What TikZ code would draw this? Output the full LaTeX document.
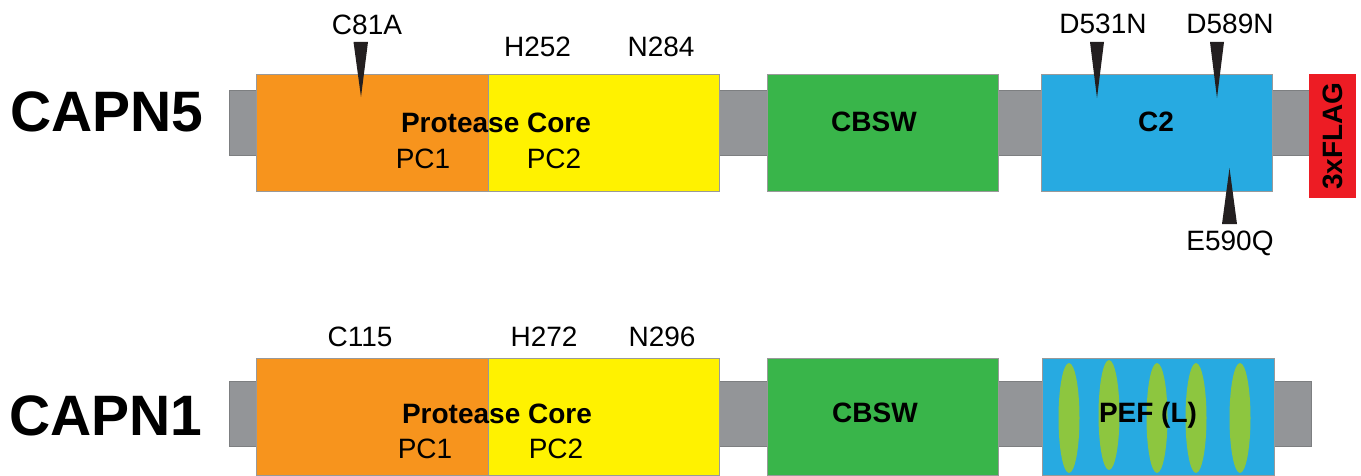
\documentclass[tikz,border=0pt]{standalone}
\usepackage{fontspec}
\setmainfont{Liberation Sans}
\definecolor{cgray}{HTML}{939598}
\definecolor{corange}{HTML}{F7941D}
\definecolor{cyellow}{HTML}{FFF200}
\definecolor{cgreen}{HTML}{39B54A}
\definecolor{cblue}{HTML}{27AAE1}
\definecolor{cred}{HTML}{ED1C24}
\definecolor{clime}{HTML}{8DC63F}
\definecolor{cblack}{HTML}{231F20}
\begin{document}
\begin{tikzpicture}[x=1pt,y=-1pt,
  dom/.style={draw=black!40, line width=0.6pt, anchor=north west, inner sep=0pt, outer sep=0pt, minimum height=117pt},
  linker/.style={fill=cgray, draw=cgray!85!black, line width=0.5pt, anchor=north west, inner sep=0pt, outer sep=0pt, minimum height=65pt},
  lab/.style={font=\fontsize{28}{34}\selectfont, anchor=base, inner sep=0pt, text=black},
  blab/.style={font=\fontsize{28}{34}\selectfont\bfseries, anchor=base, inner sep=0pt, text=black},
  big/.style={font=\fontsize{57}{68}\selectfont\bfseries, anchor=base, inner sep=0pt, text=black},
  tri/.style={fill=cblack},
  pef/.style={fill=clime}]
\useasboundingbox (0,0) rectangle (1361,476);

% ---------- CAPN5 ----------
\node[linker, minimum width=1081pt] (l5) at (229,90.5) {};
\node[dom, fill=corange, minimum width=232pt] (pc1a) at (256,74) {};
\node[dom, fill=cyellow, minimum width=231pt] (pc2a) at (488,74) {};
\node[dom, fill=cgreen, minimum width=231pt] (cbswa) at (767,74) {};
\node[dom, fill=cblue, minimum width=231pt] (c2a) at (1041,74) {};
\node[dom, fill=cred, draw=cred, minimum width=46pt, minimum height=123pt] (flag) at (1309,74) {};
\node[blab, rotate=90, anchor=center] (flagt) at (1333,136) {3xFLAG};

\node[big] (capn5) at (107,132) {CAPN5};
\node[blab] (pca) at (496,133) {Protease Core};
\node[lab] (pc1at) at (423,168) {PC1};
\node[lab] (pc2at) at (554,168) {PC2};
\node[blab] (cbswat) at (874,132) {CBSW};
\node[blab] (c2at) at (1156,132) {C2};

\node[lab] (c81a) at (367,35) {C81A};
\node[lab] (h252) at (537.5,57) {H252};
\node[lab] (n284) at (661,57) {N284};
\node[lab] (d531n) at (1103,34) {D531N};
\node[lab] (d589n) at (1230,34) {D589N};
\node[lab] (e590q) at (1230,251) {E590Q};

\fill[tri] (353.5,42) -- (368,42) -- (361,97) -- cycle;
\fill[tri] (1090,42) -- (1104,42) -- (1097,98) -- cycle;
\fill[tri] (1210,42) -- (1224,42) -- (1217,98) -- cycle;
\fill[tri] (1222,224) -- (1237,224) -- (1229.5,168) -- cycle;

% ---------- CAPN1 ----------
\node[linker, minimum width=1082pt] (l1) at (229,381) {};
\node[dom, fill=corange, minimum width=232pt] (pc1b) at (256,358.5) {};
\node[dom, fill=cyellow, minimum width=231pt] (pc2b) at (488,358.5) {};
\node[dom, fill=cgreen, minimum width=231pt] (cbswb) at (767,358.5) {};
\node[dom, fill=cblue, minimum width=232pt] (pefb) at (1042,358.5) {};

\fill[pef] (1069,418) ellipse [x radius=10.5, y radius=55];
\fill[pef] (1109,415) ellipse [x radius=10.5, y radius=55];
\fill[pef] (1157,418) ellipse [x radius=10.5, y radius=55];
\fill[pef] (1196,418) ellipse [x radius=10.5, y radius=55];
\fill[pef] (1240,418) ellipse [x radius=10.5, y radius=55];

\node[big] (capn1) at (106,435) {CAPN1};
\node[blab] (pcb) at (497,423) {Protease Core};
\node[lab] (pc1bt) at (425,458) {PC1};
\node[lab] (pc2bt) at (556,458) {PC2};
\node[blab] (cbswbt) at (875,422) {CBSW};
\node[blab] (peft) at (1148,422) {PEF (L)};

\node[lab] (c115) at (360,346) {C115};
\node[lab] (h272) at (544,346) {H272};
\node[lab] (n296) at (662,346) {N296};
\end{tikzpicture}
\end{document}
